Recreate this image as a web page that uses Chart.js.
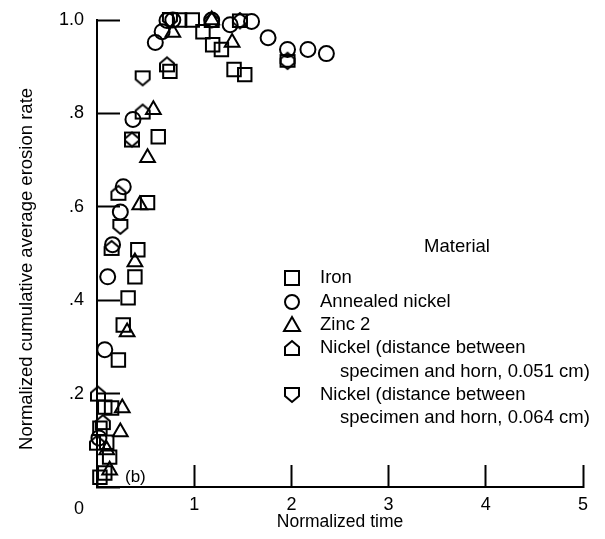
<!DOCTYPE html>
<html>
<head>
<meta charset="utf-8">
<script src="https://cdn.jsdelivr.net/npm/chart.js@4/dist/chart.umd.min.js"></script>
<style>
  html, body { margin: 0; padding: 0; background: #fff; }
</style>
</head>
<body>
<canvas id="chart" width="605" height="539"></canvas>
<script>
// Normalized time and normalized cumulative average erosion rate, one pair of arrays per material
const ironTime   = [0.85, 0.98, 1.09, 1.19, 1.28, 1.41, 1.52, 0.75, 0.63, 0.52, 0.42, 0.39, 0.32, 0.27, 0.22, 0.08, 0.15, 0.03, 0.10, 0.13, 0.03, 0.08];
const ironRate   = [1.00, 1.00, 0.975, 0.947, 0.937, 0.894, 0.883, 0.89, 0.75, 0.609, 0.508, 0.45, 0.405, 0.347, 0.272, 0.171, 0.169, 0.126, 0.096, 0.064, 0.021, 0.03];

const annealedTime = [0.60, 0.67, 0.72, 0.78, 1.18, 1.37, 1.59, 1.76, 1.96, 2.17, 2.36, 0.37, 0.27, 0.24, 0.16, 0.11, 0.08, 0.02];
const annealedRate = [0.952, 0.975, 0.999, 1.00, 1.00, 0.99, 0.997, 0.962, 0.937, 0.937, 0.928, 0.787, 0.643, 0.589, 0.519, 0.45, 0.294, 0.105];

const zincTime = [0.78, 1.18, 1.39, 0.58, 0.52, 0.44, 0.39, 0.31, 0.26, 0.24, 0.10, 0.13];
const zincRate = [0.973, 1.00, 0.952, 0.808, 0.705, 0.604, 0.482, 0.332, 0.169, 0.118, 0.079, 0.036];

const nickel051Time = [0.72, 0.47, 0.36, 0.22, 0.15, 0.01, 0.06, 0.00, 1.18, 1.47, 1.96];
const nickel051Rate = [0.905, 0.804, 0.744, 0.630, 0.512, 0.20, 0.139, 0.095, 1.00, 1.00, 0.915];

const nickel064Time = [0.47, 0.36, 0.24, 1.47, 1.96, 0.75];
const nickel064Rate = [0.875, 0.744, 0.557, 0.997, 0.91, 1.00];

const seriesNames = [
  ['Iron'],
  ['Annealed nickel'],
  ['Zinc 2'],
  ['Nickel (distance between', 'specimen and horn, 0.051 cm)'],
  ['Nickel (distance between', 'specimen and horn, 0.064 cm)']
];

const xTicks = [0, 1, 2, 3, 4, 5];
const yTickLabels = { 0: ['', '', '0'], 0.2: '.2', 0.4: '.4', 0.6: '.6', 0.8: '.8', 1: '1.0' };

const FONT = "'Liberation Sans', Arial, sans-serif";
const INK = '#000';

function pairs(xs, ys) { return xs.map((x, i) => ({ x, y: ys[i] })); }

// Pentagon marker: flat base, peaked top (up) or flat top, pointed base (down)
function pentagonMarker(pointUp) {
  const c = document.createElement('canvas');
  c.width = 18; c.height = 18;
  const g = c.getContext('2d');
  g.strokeStyle = INK; g.lineWidth = 2; g.lineJoin = 'miter';
  g.beginPath();
  if (pointUp) {
    g.moveTo(2, 8); g.lineTo(9, 2); g.lineTo(16, 8); g.lineTo(16, 16); g.lineTo(2, 16);
  } else {
    g.moveTo(2, 2); g.lineTo(16, 2); g.lineTo(16, 10); g.lineTo(9, 16); g.lineTo(2, 10);
  }
  g.closePath();
  g.stroke();
  return c;
}
const houseMarker = pentagonMarker(true);
const shieldMarker = pentagonMarker(false);

function scatterSet(label, xs, ys, style, radius) {
  return {
    label,
    data: pairs(xs, ys),
    pointStyle: style,
    pointRadius: radius,
    pointHoverRadius: radius,
    pointBorderWidth: 2,
    borderColor: INK,
    backgroundColor: 'rgba(0,0,0,0)',
    clip: false
  };
}

// Fixed axis sizes so the plot area sits at a set place on the canvas
function fixScale(size) {
  return function (scale) {
    if (scale.isHorizontal()) scale.height = size; else scale.width = size;
    scale.paddingTop = 0; scale.paddingBottom = 0;
    scale.paddingLeft = 0; scale.paddingRight = 0;
  };
}

// Key drawn inside the plot area, to the right of the data
const materialKey = {
  id: 'materialKey',
  afterDraw(chart) {
    const ctx = chart.ctx;
    ctx.save();
    ctx.fillStyle = INK;
    ctx.strokeStyle = INK;
    ctx.lineWidth = 2;
    ctx.textBaseline = 'middle';
    ctx.font = '18.5px ' + FONT;
    ctx.textAlign = 'center';
    ctx.fillText('Material', 457, 247);
    ctx.textAlign = 'left';

    const symX = 292, textX = 320, contX = 340;
    const rows = [278, 302, 325, 348, 395];
    const cont = [null, null, null, 372, 418];
    chart.data.datasets.forEach((ds, i) => {
      const y = rows[i];
      const st = ds.pointStyle;
      ctx.beginPath();
      if (st === 'rect') {
        ctx.rect(symX - 7, y - 7, 14, 14);
        ctx.stroke();
      } else if (st === 'circle') {
        ctx.arc(symX, y, 7, 0, Math.PI * 2);
        ctx.stroke();
      } else if (st === 'triangle') {
        ctx.moveTo(symX, y - 8); ctx.lineTo(symX + 8, y + 6); ctx.lineTo(symX - 8, y + 6); ctx.closePath();
        ctx.stroke();
      } else {
        ctx.drawImage(st, symX - st.width / 2, y - st.height / 2);
      }
      const lines = seriesNames[i];
      ctx.fillText(lines[0], textX, y);
      if (lines[1]) ctx.fillText(lines[1], contX, cont[i]);
    });

    ctx.font = '17px ' + FONT;
    ctx.fillText('(b)', 125, 477);
    ctx.restore();
  }
};

new Chart(document.getElementById('chart'), {
  type: 'scatter',
  data: {
    datasets: [
      scatterSet(seriesNames[0].join(' '), ironTime, ironRate, 'rect', 9.5),
      scatterSet(seriesNames[1].join(' '), annealedTime, annealedRate, 'circle', 7.5),
      scatterSet(seriesNames[2].join(' '), zincTime, zincRate, 'triangle', 8.5),
      scatterSet(seriesNames[3].join(' '), nickel051Time, nickel051Rate, houseMarker, 8),
      scatterSet(seriesNames[4].join(' '), nickel064Time, nickel064Rate, shieldMarker, 8)
    ]
  },
  options: {
    responsive: false,
    animation: false,
    events: [],
    layout: { padding: { top: 20, right: 22, left: 0, bottom: 0 } },
    plugins: {
      legend: { display: false },
      tooltip: { enabled: false }
    },
    scales: {
      x: {
        type: 'linear',
        min: 0,
        max: 5,
        afterFit: fixScale(52),
        afterBuildTicks(scale) { scale.ticks = xTicks.map(v => ({ value: v })); },
        border: { display: true, color: INK, width: 2 },
        grid: { drawOnChartArea: false, tickLength: -22, tickWidth: 2, tickColor: INK },
        ticks: {
          padding: 29,
          color: INK,
          font: { family: FONT, size: 18 },
          callback: v => (v === 0 ? '' : String(v))
        },
        title: {
          display: true,
          text: 'Normalized time',
          color: INK,
          font: { family: FONT, size: 17.5 },
          padding: { top: 0, bottom: 6 }
        }
      },
      y: {
        type: 'linear',
        min: 0,
        max: 1,
        afterFit: fixScale(97),
        border: { display: true, color: INK, width: 2 },
        grid: { drawOnChartArea: false, tickLength: -23, tickWidth: 2, tickColor: INK },
        ticks: {
          stepSize: 0.2,
          padding: 36,
          color: INK,
          font: { family: FONT, size: 18 },
          callback: v => yTickLabels[Math.round(v * 10) / 10]
        },
        title: {
          display: true,
          text: 'Normalized cumulative average erosion rate      ',
          color: INK,
          font: { family: FONT, size: 18.5 },
          padding: { top: 16, bottom: 0 }
        }
      }
    }
  },
  plugins: [materialKey]
});
</script>
</body>
</html>
